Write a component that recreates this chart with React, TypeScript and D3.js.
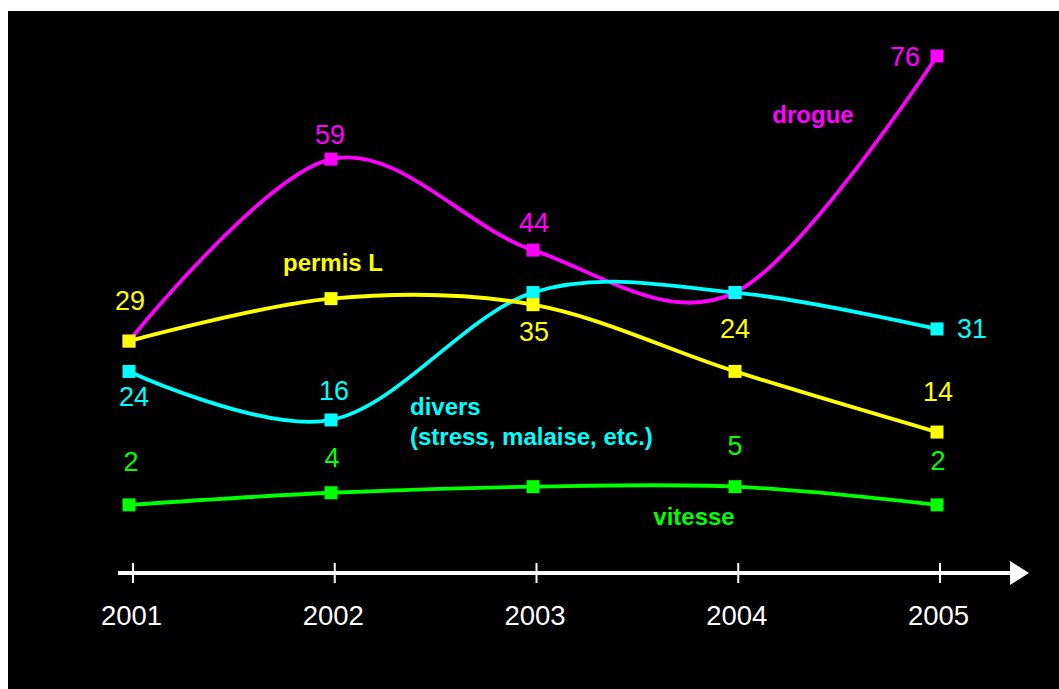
import React from "react";
import * as d3 from "d3";

const years = [2001, 2002, 2003, 2004, 2005];
const drogue = [29, 59, 44, 37, 76];
const permisL = [29, 36, 35, 24, 14];
const divers = [24, 16, 37, 37, 31];
const vitesse = [2, 4, 5, 5, 2];

// which values show a label (null = hidden)
const drogueLabels = [null, "59", "44", null, "76"];
const permisLabels = ["29", null, "35", "24", "14"];
const diversLabels = ["24", "16", null, null, "31"];
const vitesseLabels = ["2", "4", null, "5", "2"];

const W = 1059;
const H = 689;
const FONT = "'Liberation Sans', Arial, Helvetica, sans-serif";

export default function App() {
  const x = d3.scaleLinear().domain([2001, 2005]).range([129, 937]);
  const xAxis = d3.scaleLinear().domain([2001, 2005]).range([133, 940]);
  const y = d3.scaleLinear().domain([0, 76]).range([517, 56]);

  const line = d3
    .line<number>()
    .x((_, i) => x(years[i]))
    .y((d) => y(d))
    .curve(d3.curveCardinal.tension(0));

  // drawing order: bottom first
  const series = [
    {
      name: "drogue",
      values: drogue,
      labels: drogueLabels,
      color: "#ff00ff",
      dx: [0, -1, 1, 0, -32],
      off: [0, -15.5, -18.5, 0, 9.5],
      title: ["drogue"],
      tx: 813,
      ty: 123,
      anchor: "middle",
    },
    {
      name: "divers",
      values: divers,
      labels: diversLabels,
      color: "#00ffff",
      dx: [5, 3, 0, 0, 35],
      off: [34.5, -19.5, 0, 0, 9.5],
      title: ["divers", "(stress, malaise, etc.)"],
      tx: 410,
      ty: 415,
      anchor: "start",
    },
    {
      name: "permis L",
      values: permisL,
      labels: permisLabels,
      color: "#ffff00",
      dx: [1, 0, 1, 0, 1],
      off: [-31.5, 0, 36, -33.5, -31.5],
      title: ["permis L"],
      tx: 333,
      ty: 271,
      anchor: "middle",
    },
    {
      name: "vitesse",
      values: vitesse,
      labels: vitesseLabels,
      color: "#00ff00",
      dx: [2, 1, 0, 0, 1],
      off: [-33.5, -26, 0, -32, -34.5],
      title: ["vitesse"],
      tx: 694,
      ty: 525,
      anchor: "middle",
    },
  ];

  return (
    <svg
      width={W}
      height={H}
      style={{ position: "absolute", left: 0, top: 0, display: "block" }}
    >
      <rect x={0} y={0} width={W} height={H} fill="#ffffff" />
      <rect x={8} y={11} width={W - 8} height={H - 11} fill="#000000" />

      {/* axis */}
      <g>
        <line x1={118} x2={1014} y1={573} y2={573} stroke="#ffffff" strokeWidth={4} />
        <polygon points="1010,561 1029,573 1010,585" fill="#ffffff" />
        {years.map((yr) => (
          <g key={yr}>
            <line
              x1={xAxis(yr)}
              x2={xAxis(yr)}
              y1={563}
              y2={583}
              stroke="#ffffff"
              strokeWidth={2}
            />
            <text
              x={xAxis(yr) - 1.5}
              y={625}
              textAnchor="middle"
              fill="#ffffff"
              fontFamily={FONT}
              fontSize={27.5}
            >
              {yr}
            </text>
          </g>
        ))}
      </g>

      {series.map((s) => (
        <g key={s.name}>
          <path
            d={line(s.values) || ""}
            fill="none"
            stroke={s.color}
            strokeWidth={3.8}
            strokeLinejoin="round"
          />
          {s.values.map((v, i) => (
            <rect
              key={i}
              x={x(years[i]) - 6.5}
              y={y(v) - 6.5}
              width={13}
              height={13}
              fill={s.color}
            />
          ))}
        </g>
      ))}

      {series.map((s) => (
        <g key={s.name + "-labels"}>
          {s.values.map((v, i) =>
            s.labels[i] ? (
              <text
                key={i}
                x={x(years[i]) + s.dx[i]}
                y={y(v) + s.off[i]}
                textAnchor="middle"
                fill={s.color}
                fontFamily={FONT}
                fontSize={27}
              >
                {s.labels[i]}
              </text>
            ) : null
          )}
          <text
            x={s.tx}
            y={s.ty}
            textAnchor={s.anchor as any}
            fill={s.color}
            fontFamily={FONT}
            fontSize={24}
            fontWeight="bold"
          >
            {s.title.map((t, k) => (
              <tspan key={k} x={s.tx} dy={k === 0 ? 0 : 30}>
                {t}
              </tspan>
            ))}
          </text>
        </g>
      ))}
    </svg>
  );
}
